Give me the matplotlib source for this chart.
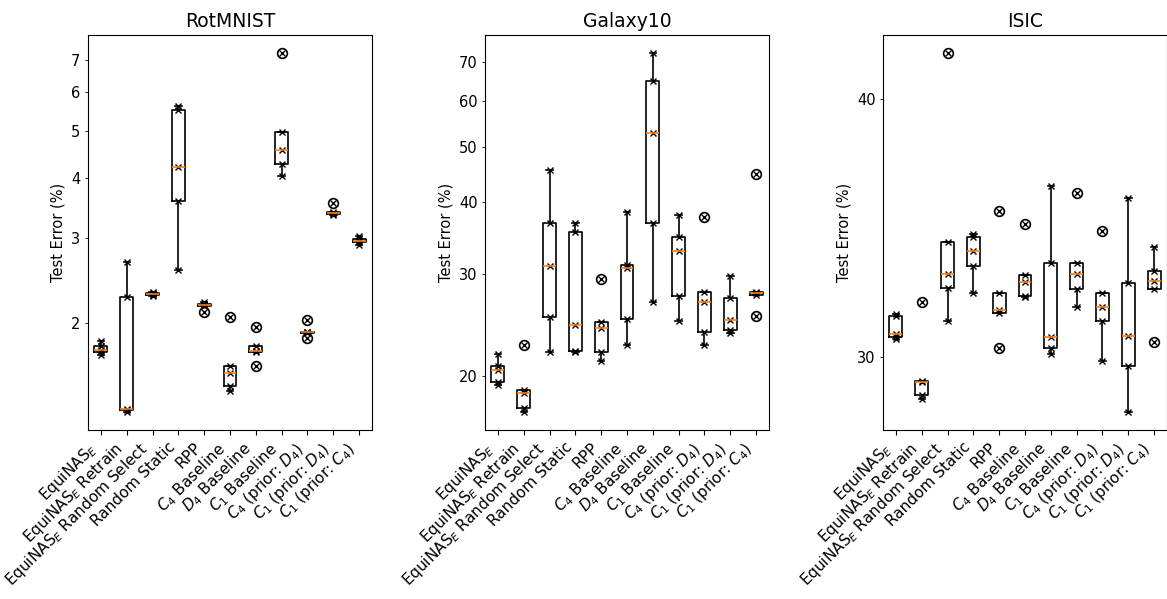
import matplotlib
matplotlib.use("Agg")
import matplotlib.pyplot as plt
from matplotlib.ticker import FuncFormatter

methods = [
    r"EquiNAS$_E$",
    r"EquiNAS$_E$ Retrain",
    r"EquiNAS$_E$ Random Select",
    "Random Static",
    "RPP",
    r"$C_4$ Baseline",
    r"$D_4$ Baseline",
    r"$C_1$ Baseline",
    r"$C_4$ (prior: $D_4$)",
    r"$C_1$ (prior: $D_4$)",
    r"$C_1$ (prior: $C_4$)",
]

titles = ["RotMNIST", "Galaxy10", "ISIC"]

rotmnist_errors = [
    [1.72, 1.74, 1.76, 1.79, 1.84],
    [1.31, 1.32, 1.33, 2.27, 2.67],
    [2.28, 2.29, 2.30, 2.31, 2.32],
    [2.58, 3.57, 4.21, 5.51, 5.62],
    [2.11, 2.17, 2.18, 2.19, 2.21],
    [1.45, 1.48, 1.58, 1.63, 2.06],
    [1.63, 1.74, 1.75, 1.79, 1.96],
    [4.03, 4.26, 4.56, 4.97, 7.24],
    [1.86, 1.91, 1.915, 1.92, 2.03],
    [3.35, 3.37, 3.38, 3.40, 3.55],
    [2.90, 2.94, 2.96, 2.99, 3.03],
]

galaxy10_errors = [
    [19.3, 19.5, 20.5, 20.8, 21.8],
    [17.3, 17.6, 18.7, 18.9, 22.6],
    [22.0, 25.3, 31.0, 36.8, 45.5],
    [22.0, 22.1, 24.5, 35.5, 36.8],
    [21.2, 22.0, 24.2, 24.8, 29.4],
    [22.6, 25.1, 30.8, 31.1, 38.5],
    [26.9, 36.8, 52.8, 64.9, 72.7],
    [24.9, 27.5, 32.9, 34.8, 38.1],
    [22.6, 23.8, 26.9, 28.0, 37.7],
    [23.7, 24.0, 25.0, 27.3, 29.8],
    [25.4, 27.6, 27.8, 28.0, 44.8],
]

isic_errors = [
    [30.6, 30.65, 30.75, 31.4, 31.45],
    [28.6, 28.75, 29.15, 29.2, 31.9],
    [31.2, 32.4, 32.9, 34.1, 42.1],
    [32.2, 33.2, 33.75, 34.3, 34.4],
    [30.3, 31.5, 31.6, 32.2, 35.3],
    [32.05, 32.1, 32.6, 32.85, 34.8],
    [30.1, 30.3, 30.67, 33.3, 36.3],
    [31.7, 32.35, 32.9, 33.3, 36.0],
    [29.85, 31.2, 31.7, 32.2, 34.5],
    [28.2, 29.7, 30.7, 32.55, 35.8],
    [30.5, 32.35, 32.65, 33.0, 33.9],
]

datasets = [rotmnist_errors, galaxy10_errors, isic_errors]

W, H = 1167, 599
fig = plt.figure(figsize=(W / 100, H / 100), dpi=100)

lefts_px = [88, 485, 883]
ax_w_px, top_px, bot_px = 284, 35, 430
fs = 10.5

for left_px, title, data in zip(lefts_px, titles, datasets):
    ax = fig.add_axes([left_px / W, (H - bot_px) / H, ax_w_px / W, (bot_px - top_px) / H])
    positions = list(range(1, len(data) + 1))
    ax.boxplot(
        data,
        positions=positions,
        widths=0.5,
        medianprops=dict(color="#ff7f0e", linewidth=1.2),
        boxprops=dict(color="black", linewidth=1.2),
        whiskerprops=dict(color="black", linewidth=1.2),
        capprops=dict(color="black", linewidth=1.2),
        flierprops=dict(marker="o", markerfacecolor="none", markeredgecolor="black",
                        markersize=7, markeredgewidth=1.2),
    )
    for pos, vals in zip(positions, data):
        ax.plot([pos] * len(vals), vals, linestyle="none", marker="x",
                color="black", markersize=5, markeredgewidth=1.0)
    ax.set_yscale("log")
    ax.yaxis.set_major_formatter(FuncFormatter(lambda v, p: f"{v:g}"))
    ax.yaxis.set_minor_formatter(FuncFormatter(lambda v, p: f"{v:g}"))
    ax.set_xticks(positions)
    ax.set_xticklabels(methods, rotation=45, ha="right", fontsize=11)
    ax.tick_params(axis="y", which="both", labelsize=fs)
    ax.set_ylabel("Test Error (%)", fontsize=fs)
    ax.set_title(title, fontsize=13.5)

fig.savefig("out.png", dpi=100)
